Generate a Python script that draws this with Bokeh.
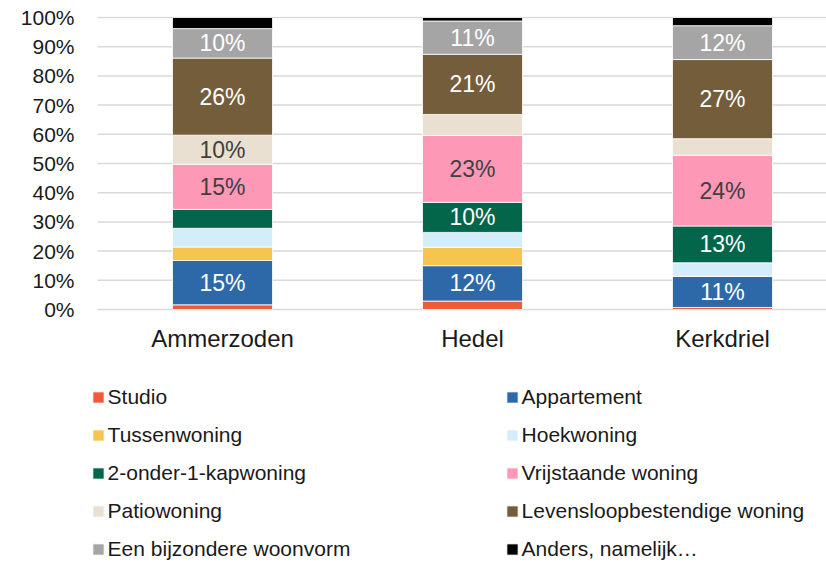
from bokeh.plotting import figure
from bokeh.models import (Range1d, FixedTicker, PrintfTickFormatter, Legend,
                          LegendItem, ColumnDataSource)
from bokeh.core.properties import value
from bokeh.embed import file_html
from bokeh.resources import INLINE

# ---------------- data ----------------
places = ["Ammerzoden", "Hedel", "Kerkdriel"]
types = ["Studio", "Appartement", "Tussenwoning", "Hoekwoning",
         "2-onder-1-kapwoning", "Vrijstaande woning", "Patiowoning",
         "Levensloopbestendige woning", "Een bijzondere woonvorm",
         "Anders, namelijk…"]
studio = [1.6, 2.9, 0.7]
appartement = [15.2, 12.1, 10.7]
tussenwoning = [4.6, 6.3, 0.0]
hoekwoning = [6.4, 5.1, 4.6]
twee_onder_een_kap = [6.5, 10.3, 12.6]
vrijstaand = [15.4, 22.9, 24.2]
patio = [10.0, 7.2, 5.7]
levensloop = [26.4, 20.6, 27.1]
bijzonder = [10.1, 11.4, 11.6]
anders = [3.8, 1.2, 2.8]
y_ticks = [0, 10, 20, 30, 40, 50, 60, 70, 80, 90, 100]

series = [studio, appartement, tussenwoning, hoekwoning, twee_onder_een_kap,
          vrijstaand, patio, levensloop, bijzonder, anders]
colors = ["#F05A3C", "#2D69A8", "#F5C54F", "#D3EDFB", "#03664A",
          "#FE98B7", "#E9E0D2", "#745D3B", "#A5A5A5", "#000000"]
label_colors = ["white", "white", "#404040", "#404040", "white",
                "#404040", "#404040", "white", "white", "white"]

FONT = "Liberation Sans"
W, H = 826, 564
TOP, ZERO_Y = 17, 309          # pixel rows of 100% and 0%
FRAME_LEFT, AXIS_LEFT = 90, 97  # frame edge / start of the category axis
PX_PER_CAT = 250.0
px_per_unit = (ZERO_Y - TOP) / 100.0
y_lo = -(H - ZERO_Y) / px_per_unit       # frame extends below 0 to hold labels/legend
y_hi = 100 + 1 / px_per_unit
x_lo = -(AXIS_LEFT - FRAME_LEFT) / PX_PER_CAT
x_hi = (W - AXIS_LEFT) / PX_PER_CAT

xs = [i + 0.5 for i in range(len(places))]
keys = [f"s{i}" for i in range(len(types))]
data = {"x": xs}
for k, s in zip(keys, series):
    data[k] = s
source = ColumnDataSource(data)

p = figure(width=W, height=H, output_backend="svg", toolbar_location=None,
           x_range=Range1d(x_lo, x_hi), y_range=Range1d(y_lo, y_hi),
           min_border_left=FRAME_LEFT, min_border_right=0,
           min_border_top=TOP - 1, min_border_bottom=0)
p.outline_line_color = None
p.xgrid.grid_line_color = None
p.ygrid.grid_line_color = None

# horizontal gridlines starting at the category axis origin
p.segment(x0=[0] * len(y_ticks), x1=[x_hi] * len(y_ticks), y0=y_ticks,
          y1=y_ticks, line_color="#D9D9D9", line_width=1.5)

renderers = p.vbar_stack(keys, x="x", width=0.4, color=colors, source=source,
                         line_color="white", line_width=0.8)

# data labels
lx, ly, lt, lc = [], [], [], []
for j, x in enumerate(xs):
    bottom = 0.0
    for i, s in enumerate(series):
        v = s[j]
        if v >= 9.5:
            lx.append(x)
            ly.append(bottom + v / 2)
            lt.append(f"{round(v)}%")
            lc.append(label_colors[i])
        bottom += v
p.text(x=lx, y=ly, text=lt, text_color=lc, text_align="center",
       text_baseline="middle", text_font=value(FONT), text_font_size="23px")

# category labels (placed under the 0 line)
p.text(x=xs, y=[0] * len(xs), text=places, y_offset=29, text_color="#1a1a1a",
       text_align="center", text_baseline="middle", text_font=value(FONT),
       text_font_size="24px")

# axes
p.xaxis.visible = False
p.yaxis.ticker = FixedTicker(ticks=y_ticks)
p.yaxis.formatter = PrintfTickFormatter(format="%d%%")
p.yaxis.major_tick_line_color = None
p.yaxis.major_tick_out = 0
p.yaxis.minor_tick_line_color = None
p.yaxis.axis_line_color = None
p.yaxis.major_label_standoff = 16
p.yaxis.major_label_text_font = FONT
p.yaxis.major_label_text_font_size = "21px"
p.yaxis.major_label_text_color = "#1a1a1a"

# legends (two columns)
def make_legend(idx, loc):
    items = [LegendItem(label=types[i], renderers=[renderers[i]]) for i in idx]
    return Legend(items=items, location=loc, orientation="vertical",
                  label_text_font=FONT, label_text_font_size="21px",
                  label_text_color="#1a1a1a",
                  glyph_width=14, glyph_height=14, label_standoff=3,
                  spacing=13, label_height=25, padding=0, margin=0,
                  border_line_color=None, background_fill_alpha=0)

p.add_layout(make_legend([0, 2, 4, 6, 8], (0.6, 2.5)), "center")
p.add_layout(make_legend([1, 3, 5, 7, 9], (414.6, 2.5)), "center")

open("out.html", "w").write(file_html(p, INLINE))
